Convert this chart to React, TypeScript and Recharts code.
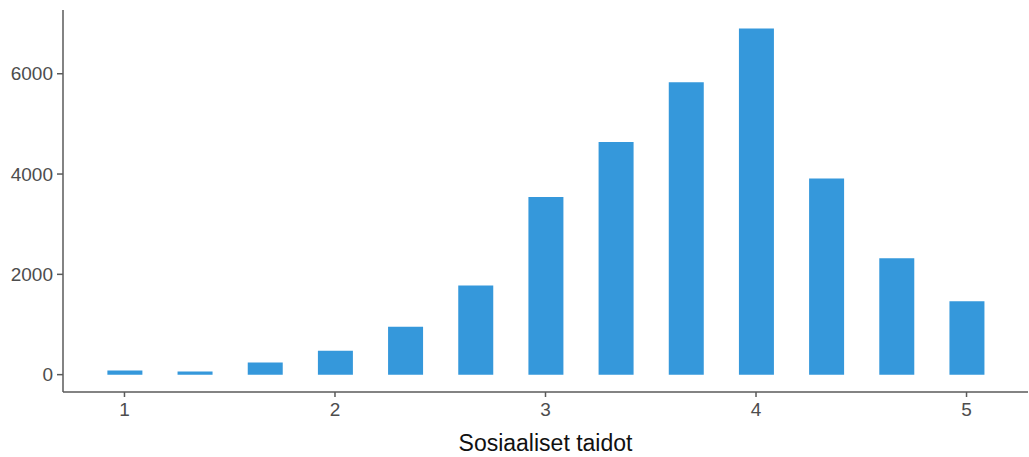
import { BarChart, Bar, XAxis, YAxis } from "recharts"

// bin centres (binwidth 1/3) and counts
const bins = [1, 1.3333, 1.6667, 2, 2.3333, 2.6667, 3, 3.3333, 3.6667, 4, 4.3333, 4.6667, 5]
const counts = [85, 65, 240, 475, 955, 1780, 3540, 4640, 5830, 6900, 3910, 2320, 1465]
const xTicks = [1, 2, 3, 4, 5]
const yTicks = [0, 2000, 4000, 6000]

const data = bins.map((x, i) => ({ x, n: counts[i] }))

const tickStyle = { fill: "#4d4d4d", fontSize: 19, fontFamily: "Liberation Sans, Arial, sans-serif" }

export default function App() {
  return (
    <div style={{ position: "absolute", top: 0, left: 0, width: 1029, height: 457, background: "#fff" }}>
      <BarChart width={1029} height={457} data={data} margin={{ top: 10, right: 1, bottom: 0, left: 0 }}>
        <XAxis
          dataKey="x"
          type="number"
          domain={[0.708, 5.292]}
          ticks={xTicks}
          allowDataOverflow
          height={65}
          tickSize={5}
          tickMargin={6}
          stroke="#5a5a5a"
          strokeWidth={1.5}
          tick={tickStyle}
          label={{
            value: "Sosiaaliset taidot",
            position: "insideBottom",
            offset: 6,
            style: { fill: "#111", fontSize: 23, fontFamily: "Liberation Sans, Arial, sans-serif" },
          }}
        />
        <YAxis
          type="number"
          domain={[-346, 7271]}
          ticks={yTicks}
          allowDataOverflow
          width={63}
          tickSize={6}
          tickMargin={4}
          stroke="#5a5a5a"
          strokeWidth={1.5}
          tick={tickStyle}
        />
        <Bar dataKey="n" fill="#3598db" barSize={35} isAnimationActive={false} />
      </BarChart>
    </div>
  )
}
